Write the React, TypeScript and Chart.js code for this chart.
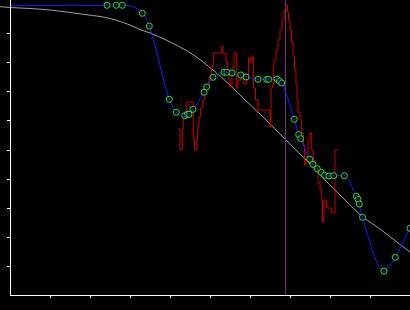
import { useEffect, useRef } from 'react';
import { Chart, registerables } from 'chart.js';

Chart.register(...registerables);

// Axis tick positions (no labels are shown on the reference)
const xTicks = [40, 80, 120, 160, 200, 240, 280, 320, 360];
const yTicks = [29, 58, 87, 116, 145, 174, 203, 232, 261];

// Smooth gray reference curve
const grayX = [-10, 0, 20, 40, 60, 75, 90, 100, 110, 120, 130, 140, 155, 170, 185, 203, 220, 235, 250, 270, 295, 315, 335, 353, 370, 383, 400];
const grayY = [288.3, 287.5, 286.5, 285, 282.5, 280.5, 278.5, 276.5, 273.5, 270, 265.5, 262, 255.5, 248, 239, 225, 210, 195, 181, 161, 136, 115, 95, 78, 66, 56, 43];

// Blue fitted series with green markers
const blueX = [-10, 97, 106.3, 112.3, 132.3, 139.3, 159.3, 166.3, 174.7, 177.3, 179, 183, 194, 196.7, 203, 214, 216.7, 222, 230.7, 236, 248, 256.7, 258.7, 267, 269.3, 271.7, 284.3, 288.7, 290.7, 299.7, 303, 307.3, 311.3, 314.7, 319, 323.7, 334.3, 346.3, 348, 349.3, 352.5, 374, 385.3, 400];
const blueY = [289.7, 289.7, 289.7, 289.7, 281.7, 269, 195.7, 182.7, 179.3, 180.7, 180.7, 185.7, 202.7, 208, 217.7, 222.7, 222.7, 222, 220, 218, 215.7, 215.7, 215.7, 216, 214, 212, 175.7, 160.5, 156.3, 135.7, 130.7, 126.3, 122.7, 119.7, 119, 119.3, 119.3, 98.7, 95.7, 91, 77.7, 24, 37.7, 66.7];

// Red raw stepped series
const redX = [168, 170, 172.3, 173.3, 176.7, 183.3, 184.5, 186.7, 187.7, 189, 190.7, 192.7, 194.5, 196.5, 199, 201.5, 203.3, 211.7, 213, 216, 217.5, 219, 220, 222, 224, 226.7, 228, 231, 234, 237, 238.5, 240.5, 242, 243.5, 245.5, 248, 260, 261, 262.5, 263.3, 264, 266, 268, 270, 272, 274, 275.5, 277.5, 278.5, 280, 281.5, 283, 284.5, 286, 287, 288, 290, 291.7, 293.3, 294.5, 296, 298, 300, 301.7, 303.3, 305, 306.7, 308, 310, 311.7, 312.5, 314, 316.7, 321.7, 325, 328.3];
const redY = [166, 145, 166, 177, 193, 155, 145, 155, 168, 178, 187, 195, 203, 209, 218, 228, 242, 249, 241, 233, 225, 215, 208, 227, 242, 207, 215, 219, 211, 220, 237, 233, 238, 207, 195, 185, 168, 207, 210, 230, 235, 245, 255, 265, 275, 285, 290, 283, 275, 265, 253, 238, 225, 210, 195, 183, 175, 162, 150, 130, 135, 155, 162, 145, 135, 127, 123, 112, 105, 95, 73, 95, 87, 82, 145, 145];

// Vertical marker line
const markerX = [275.5, 275.5];
const markerY = [0, 295];

const X_MIN = 0;
const X_MAX = 400;
const Y_MIN = 0;
const Y_MAX = 295;

const zip = (xs: number[], ys: number[]) => xs.map((x, i) => ({ x, y: ys[i] }));

export default function App() {
  const canvasRef = useRef<HTMLCanvasElement | null>(null);

  useEffect(() => {
    document.documentElement.style.background = '#000';
    document.body.style.margin = '0';
    document.body.style.background = '#000';
    const canvas = canvasRef.current;
    if (!canvas) return;

    const chart = new Chart(canvas, {
      type: 'line',
      data: {
        datasets: [
          {
            // center dots on markers (top-most)
            data: zip(blueX, blueY),
            showLine: false,
            pointRadius: 1,
            pointBorderWidth: 0,
            pointBackgroundColor: '#1a1aff',
            pointBorderColor: '#1a1aff',
            clip: 0,
          },
          {
            data: zip(blueX, blueY),
            borderColor: '#1a1aff',
            borderWidth: 1,
            cubicInterpolationMode: 'monotone',
            pointRadius: 3,
            pointBorderWidth: 1,
            pointBorderColor: '#2ee62e',
            pointBackgroundColor: '#000000',
            clip: 0,
          },
          {
            data: zip(markerX, markerY),
            borderColor: '#7a2a86',
            borderWidth: 1,
            pointRadius: 0,
            clip: false,
          },
          {
            data: zip(redX, redY),
            borderColor: '#cc0000',
            borderWidth: 1,
            stepped: 'before',
            pointRadius: 0,
          },
          {
            data: zip(grayX, grayY),
            borderColor: '#a0a0a0',
            borderWidth: 1,
            cubicInterpolationMode: 'monotone',
            pointRadius: 0,
            clip: false,
          },
        ],
      },
      options: {
        animation: false,
        responsive: true,
        maintainAspectRatio: false,
        events: [],
        layout: { padding: 0, autoPadding: false },
        plugins: {
          legend: { display: false },
          tooltip: { enabled: false },
          title: { display: false },
        },
        scales: {
          x: {
            type: 'linear',
            min: X_MIN,
            max: X_MAX,
            afterBuildTicks: (s: any) => {
              s.ticks = xTicks.map((value) => ({ value }));
            },
            afterFit: (s: any) => {
              s.height = 15;
            },
            ticks: { display: false },
            grid: {
              drawOnChartArea: false,
              drawTicks: true,
              tickLength: 3,
              color: '#ffffff',
              lineWidth: 1,
            },
            border: { display: true, color: '#ffffff', width: 1, z: 1 },
          },
          y: {
            type: 'linear',
            min: Y_MIN,
            max: Y_MAX,
            afterBuildTicks: (s: any) => {
              s.ticks = yTicks.map((value) => ({ value }));
            },
            afterFit: (s: any) => {
              s.width = 10;
            },
            ticks: { display: false },
            grid: {
              drawOnChartArea: false,
              drawTicks: true,
              tickLength: 3,
              color: '#ffffff',
              lineWidth: 1,
            },
            border: { display: true, color: '#ffffff', width: 1, z: 1 },
          },
        },
      },
    } as any);

    return () => chart.destroy();
  }, []);

  return (
    <div style={{ position: 'relative', width: 410, height: 310, background: '#000' }}>
      <canvas ref={canvasRef} />
    </div>
  );
}
